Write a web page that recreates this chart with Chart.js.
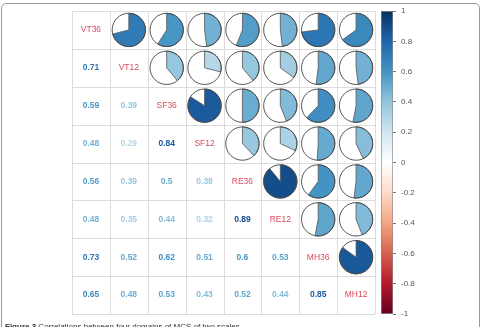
<!DOCTYPE html>
<html>
<head>
<meta charset="utf-8">
<script src="https://cdn.jsdelivr.net/npm/chart.js@4.4.1/dist/chart.umd.min.js"></script>
<style>
  html, body { margin: 0; padding: 0; background: #fff; }
  #wrap { position: relative; width: 484px; height: 327px; overflow: hidden; background: #fff; }
  #frame { position: absolute; left: 1px; top: 3px; width: 479px; height: 360px; border: 1px solid #9a9a9a; border-radius: 5px; box-sizing: border-box; }
  #main { position: absolute; left: 0; top: 0; }
  #cbar { position: absolute; left: 380px; top: 0; }
  #cap { position: absolute; left: 5px; top: 321.5px; font: 8px "Liberation Sans", Arial, sans-serif; color: #333; white-space: nowrap; }
</style>
</head>
<body>
<div id="wrap">
  <div id="frame"></div>
  <canvas id="main" width="484" height="327"></canvas>
  <canvas id="cbar" width="44" height="327"></canvas>
  <div id="cap"><b>Figure 3</b> Correlations between four domains of MCS of two scales</div>
</div>
<script>
// ---- data ----
const variables = ['VT36', 'VT12', 'SF36', 'SF12', 'RE36', 'RE12', 'MH36', 'MH12'];
const VT36 = [1.00, 0.71, 0.59, 0.48, 0.56, 0.48, 0.73, 0.65];
const VT12 = [0.71, 1.00, 0.39, 0.29, 0.39, 0.35, 0.52, 0.48];
const SF36 = [0.59, 0.39, 1.00, 0.84, 0.50, 0.44, 0.62, 0.53];
const SF12 = [0.48, 0.29, 0.84, 1.00, 0.38, 0.32, 0.51, 0.43];
const RE36 = [0.56, 0.39, 0.50, 0.38, 1.00, 0.89, 0.60, 0.52];
const RE12 = [0.48, 0.35, 0.44, 0.32, 0.89, 1.00, 0.53, 0.44];
const MH36 = [0.73, 0.52, 0.62, 0.51, 0.60, 0.53, 1.00, 0.85];
const MH12 = [0.65, 0.48, 0.53, 0.43, 0.52, 0.44, 0.85, 1.00];
const colorbarTicks = [-1, -0.8, -0.6, -0.4, -0.2, 0, 0.2, 0.4, 0.6, 0.8, 1];

const matrix = [VT36, VT12, SF36, SF12, RE36, RE12, MH36, MH12];

// RdBu palette (corrplot col2)
const stops = ['#67001F', '#B2182B', '#D6604D', '#F4A582', '#FDDBC7', '#FFFFFF',
               '#D1E5F0', '#92C5DE', '#4393C3', '#2166AC', '#053061'];
function hex2rgb(h) { return [parseInt(h.substr(1,2),16), parseInt(h.substr(3,2),16), parseInt(h.substr(5,2),16)]; }
function colorFor(v) {
  const t = (Math.max(-1, Math.min(1, v)) + 1) / 2 * (stops.length - 1);
  const i = Math.min(stops.length - 2, Math.floor(t));
  const f = t - i;
  const a = hex2rgb(stops[i]), b = hex2rgb(stops[i + 1]);
  const c = a.map((x, k) => Math.round(x + (b[k] - x) * f));
  return 'rgb(' + c.join(',') + ')';
}

const points = [];
matrix.forEach((row, i) => row.forEach((v, j) => points.push({ x: j, y: i, v: v })));

const corrPlugin = {
  id: 'corr',
  beforeDatasetsDraw(chart) {
    const ctx = chart.ctx, xs = chart.scales.x, ys = chart.scales.y;
    ctx.save();
    ctx.strokeStyle = '#dcdcdc';
    ctx.lineWidth = 1;
    const n = variables.length;
    for (let k = 0; k <= n; k++) {
      const px = Math.round(xs.getPixelForValue(k - 0.5)) + 0.5;
      const py = Math.round(ys.getPixelForValue(k - 0.5)) + 0.5;
      ctx.beginPath();
      ctx.moveTo(px, ys.getPixelForValue(-0.5)); ctx.lineTo(px, ys.getPixelForValue(n - 0.5));
      ctx.stroke();
      ctx.beginPath();
      ctx.moveTo(xs.getPixelForValue(-0.5), py); ctx.lineTo(xs.getPixelForValue(n - 0.5), py);
      ctx.stroke();
    }
    ctx.restore();
  },
  afterDatasetsDraw(chart) {
    const ctx = chart.ctx, xs = chart.scales.x, ys = chart.scales.y;
    const data = chart.data.datasets[0].data;
    ctx.save();
    data.forEach(p => {
      const cx = xs.getPixelForValue(p.x), cy = ys.getPixelForValue(p.y);
      const cell = Math.abs(xs.getPixelForValue(p.x + 0.5) - xs.getPixelForValue(p.x - 0.5));
      if (p.x === p.y) {
        ctx.fillStyle = '#d94a5c';
        ctx.font = '8.5px "Liberation Sans", Arial, sans-serif';
        ctx.textAlign = 'center'; ctx.textBaseline = 'middle';
        ctx.fillText(variables[p.x], cx, cy);
      } else if (p.x > p.y) {
        const r = cell * 0.44;
        ctx.beginPath(); ctx.arc(cx, cy, r, 0, Math.PI * 2);
        ctx.fillStyle = '#fff'; ctx.fill();
        const a0 = -Math.PI / 2, a1 = a0 + p.v * Math.PI * 2;
        ctx.beginPath(); ctx.moveTo(cx, cy); ctx.arc(cx, cy, r, a0, a1, p.v < 0); ctx.closePath();
        ctx.fillStyle = colorFor(p.v); ctx.fill();
        ctx.strokeStyle = '#555'; ctx.lineWidth = 0.8; ctx.stroke();
        ctx.beginPath(); ctx.arc(cx, cy, r, 0, Math.PI * 2);
        ctx.strokeStyle = '#444'; ctx.lineWidth = 0.9; ctx.stroke();
      } else {
        ctx.fillStyle = colorFor(p.v);
        ctx.font = 'bold 8.5px "Liberation Sans", Arial, sans-serif';
        ctx.textAlign = 'center'; ctx.textBaseline = 'middle';
        ctx.fillText(String(p.v), cx, cy);
      }
    });
    ctx.restore();
  }
};

new Chart(document.getElementById('main'), {
  type: 'scatter',
  data: { datasets: [{ data: points, pointRadius: 0, pointHoverRadius: 0 }] },
  options: {
    responsive: false, animation: false,
    layout: { padding: { left: 72, top: 11, right: 109, bottom: 13 } },
    plugins: { legend: { display: false }, tooltip: { enabled: false } },
    scales: {
      x: { type: 'linear', min: -0.5, max: 7.5, display: false },
      y: { type: 'linear', min: -0.5, max: 7.5, reverse: true, display: false }
    }
  },
  plugins: [corrPlugin]
});

new Chart(document.getElementById('cbar'), {
  type: 'bar',
  data: {
    labels: ['c'],
    datasets: [{
      data: [[colorbarTicks[0], colorbarTicks[colorbarTicks.length - 1]]],
      barPercentage: 1, categoryPercentage: 1,
      borderWidth: 1, borderColor: '#8a8a8a', borderSkipped: false,
      backgroundColor(context) {
        const ch = context.chart, area = ch.chartArea;
        if (!area) return '#fff';
        const ys = ch.scales.y;
        const g = ch.ctx.createLinearGradient(0, ys.getPixelForValue(-1), 0, ys.getPixelForValue(1));
        stops.forEach((s, k) => g.addColorStop(k / (stops.length - 1), s));
        return g;
      }
    }]
  },
  options: {
    responsive: false, animation: false,
    layout: { padding: { left: 1, top: 11, right: 0, bottom: 13 } },
    plugins: { legend: { display: false }, tooltip: { enabled: false } },
    scales: {
      x: { display: false },
      y: {
        position: 'right', min: -1, max: 1,
        afterBuildTicks(scale) { scale.ticks = colorbarTicks.map(v => ({ value: v })); },
        afterFit(scale) { scale.width = 31; },
        ticks: { color: '#555', font: { size: 8, family: '"Liberation Sans", Arial, sans-serif' }, padding: 5,
                 callback: v => String(Math.round(v * 10) / 10) },
        grid: { drawOnChartArea: false, drawTicks: true, tickLength: 3, color: '#777' },
        border: { display: false }
      }
    }
  }
});
</script>
</body>
</html>
